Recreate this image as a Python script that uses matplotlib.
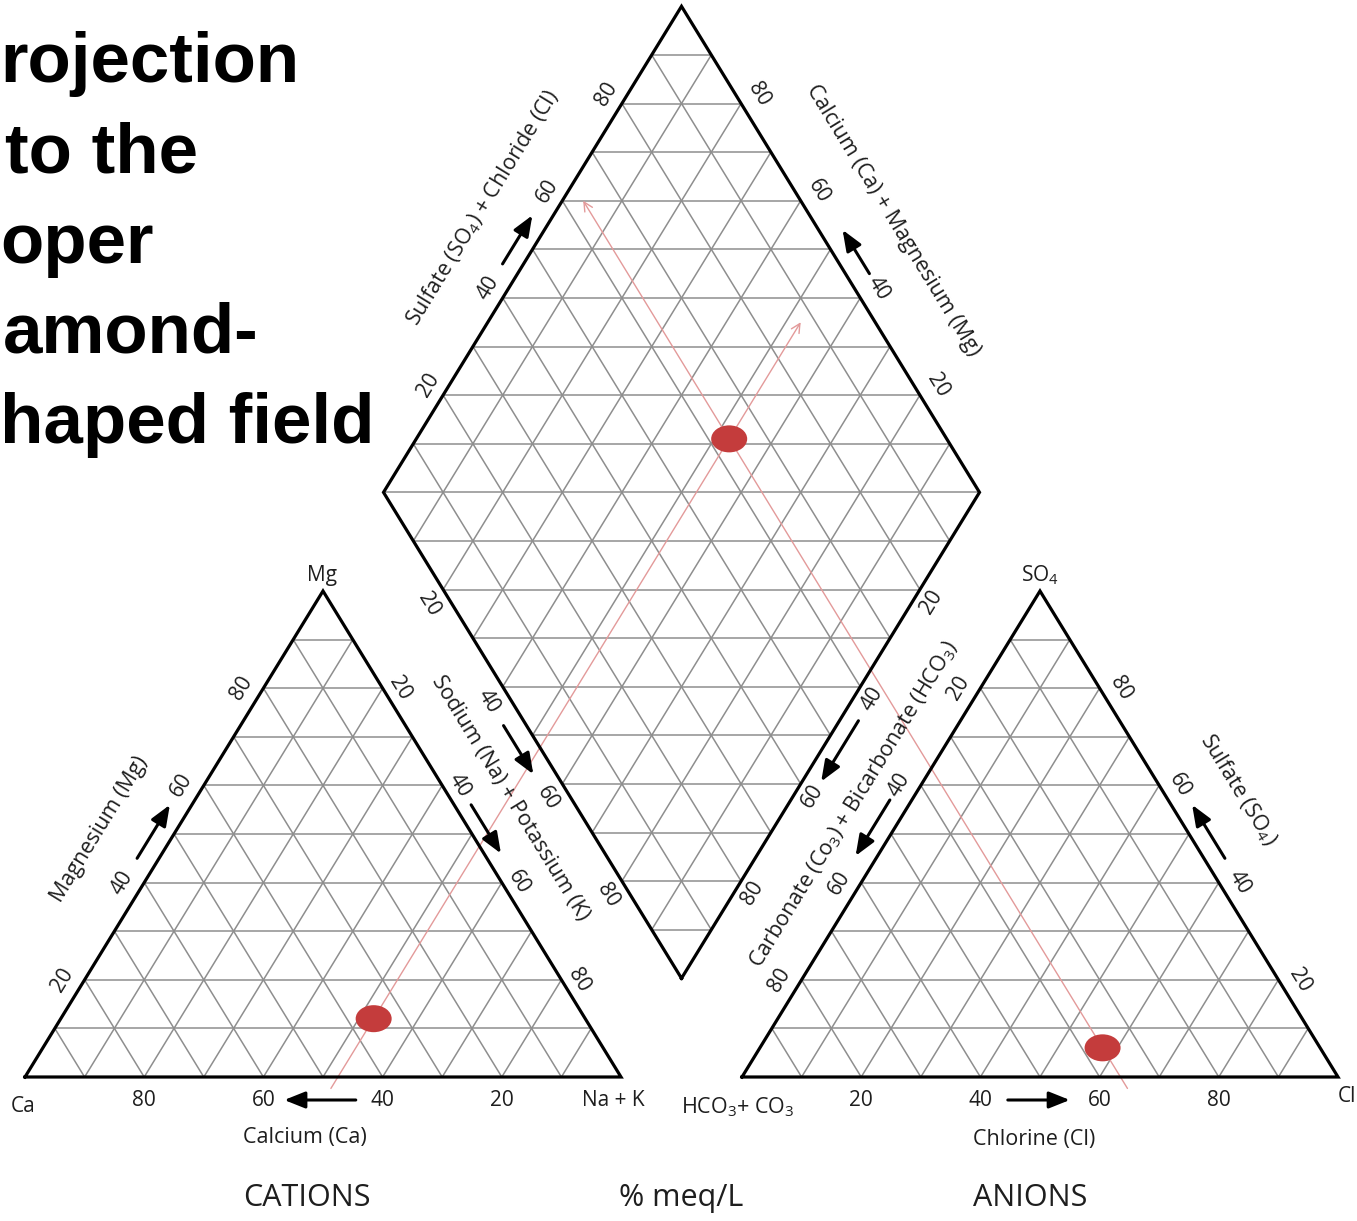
import numpy as np
import matplotlib
matplotlib.use("Agg")
import matplotlib.pyplot as plt
from matplotlib.patches import Ellipse, FancyArrowPatch

# ---------------- data ----------------
cation_names = ["Ca", "Mg", "Na + K"]
cation_percent = [35.5, 12.0, 52.5]      # Ca, Mg, Na+K   (% meq/L)
anion_names = ["HCO3 + CO3", "SO4", "Cl"]
anion_percent = [36.5, 6.0, 57.5]        # HCO3+CO3, SO4, Cl (% meq/L)
tick_values = [20, 40, 60, 80]
grid_values = [10, 20, 30, 40, 50, 60, 70, 80, 90]
heading_lines = ["rojection", "to the", "oper", "amond-", "haped field"]

# ---------------- fonts ----------------
plt.rcParams["font.family"] = ["Open Sans", "DejaVu Sans"]
plt.rcParams["mathtext.fontset"] = "custom"
plt.rcParams["mathtext.rm"] = "Open Sans"
plt.rcParams["mathtext.it"] = "Open Sans"
plt.rcParams["mathtext.bf"] = "Open Sans:bold"

W, HH = 1357, 1221
fig = plt.figure(figsize=(W / 100, HH / 100), dpi=100)
ax = fig.add_axes([0, 0, 1, 1])
ax.set_xlim(0, W)
ax.set_ylim(HH, 0)
ax.axis("off")

# ---------------- geometry (layout) ----------------
X0, BASE, S, H, G = 25.0, 1077.0, 596.0, 486.0, 121.0
K = H / S
ANG = np.degrees(np.arctan2(H, S / 2))
GRID_C = "#8e8e8e"
TXT = "#1e1e1e"
RED = "#c43c3c"
RED_LINE = "#e39a9a"


def cat_xy(ca, mg, nak):
    tot = ca + mg + nak
    return X0 + S * (nak + mg / 2) / tot, BASE - H * mg / tot


def an_xy(hco3, so4, cl):
    tot = hco3 + so4 + cl
    return X0 + S + G + S * (cl + so4 / 2) / tot, BASE - H * so4 / tot


def u_line(nak, t):
    return X0 + S * nak / 100 + t / 2, BASE - K * t


def v_line(hco3, t):
    return X0 + S + G + S * (1 - hco3 / 100) - t / 2, BASE - K * t


def dia_t(nak, hco3):
    return S * (2 - nak / 100 - hco3 / 100) + G


def seg(p, q, **kw):
    ax.plot([p[0], q[0]], [p[1], q[1]], **kw)


gkw = dict(color=GRID_C, lw=1.1, zorder=1, solid_capstyle="butt")
okw = dict(color="black", lw=2.3, zorder=3, solid_joinstyle="miter")

# cation grid
for v in grid_values:
    seg(cat_xy(100 - v, v, 0), cat_xy(0, v, 100 - v), **gkw)
    seg(cat_xy(100 - v, 0, v), cat_xy(0, 100 - v, v), **gkw)
    seg(cat_xy(v, 0, 100 - v), cat_xy(v, 100 - v, 0), **gkw)
# anion grid
for v in grid_values:
    seg(an_xy(100 - v, v, 0), an_xy(0, v, 100 - v), **gkw)
    seg(an_xy(100 - v, 0, v), an_xy(0, 100 - v, v), **gkw)
    seg(an_xy(v, 0, 100 - v), an_xy(v, 100 - v, 0), **gkw)
# diamond grid
for v in grid_values:
    seg(u_line(v, dia_t(v, 100)), u_line(v, dia_t(v, 0)), **gkw)
    seg(v_line(v, dia_t(100, v)), v_line(v, dia_t(0, v)), **gkw)
B = u_line(100, G)
L = u_line(0, S + G)
R = v_line(0, S + G)
T = u_line(0, 2 * S + G)
for j in range(1, 2 * len(grid_values) + 2):
    y = B[1] - j * H / 10
    hw = min(j, 20 - j) * S / 20
    seg((B[0] - hw, y), (B[0] + hw, y), **gkw)

# outlines
CA, MG, NK = cat_xy(100, 0, 0), cat_xy(0, 100, 0), cat_xy(0, 0, 100)
HC, SO, CL = an_xy(100, 0, 0), an_xy(0, 100, 0), an_xy(0, 0, 100)
for poly in ([CA, NK, MG, CA], [HC, CL, SO, HC], [B, R, T, L, B]):
    xs, ys = zip(*poly)
    ax.plot(xs, ys, **okw)

# ---------------- projection lines and points ----------------
ca, mg, nak = cation_percent
hco3, so4, cl = anion_percent
tp = dia_t(nak, hco3)
ax.annotate("", xy=u_line(nak, tp + 0.24 * S), xytext=u_line(nak, -14),
            arrowprops=dict(arrowstyle="->", color=RED_LINE, lw=1.0,
                            shrinkA=0, shrinkB=0, mutation_scale=16), zorder=2)
ax.annotate("", xy=v_line(hco3, tp + 0.49 * S), xytext=v_line(hco3, -14),
            arrowprops=dict(arrowstyle="->", color=RED_LINE, lw=1.0,
                            shrinkA=0, shrinkB=0, mutation_scale=16), zorder=2)
for p in (cat_xy(ca, mg, nak), an_xy(hco3, so4, cl), u_line(nak, tp)):
    ax.add_patch(Ellipse(p, 36, 27, color=RED, zorder=5, lw=0))


# ---------------- edge labels ----------------
def lerp(p, q, f):
    return p[0] + f * (q[0] - p[0]), p[1] + f * (q[1] - p[1])


def edge(P0, P1, dx, dy, rot, shift=0.0, arrow=(0.45, 0.56),
         title=None, tf=0.5, tdx=0.0, tdy=0.0, tsize=15.5):
    for v in tick_values:
        x, y = lerp(P0, P1, v / 100 + shift)
        ax.text(x + dx, y + dy, str(v), fontsize=15, color=TXT, rotation=rot,
                ha="center", va="center", rotation_mode="anchor")
    a0 = lerp(P0, P1, arrow[0] + shift)
    a1 = lerp(P0, P1, arrow[1] + shift)
    ax.add_patch(FancyArrowPatch((a0[0] + dx, a0[1] + dy), (a1[0] + dx, a1[1] + dy),
                                 arrowstyle="-|>,head_length=0.7,head_width=0.28",
                                 mutation_scale=18, lw=2.2, color="black",
                                 shrinkA=0, shrinkB=0, zorder=4))
    if title:
        x, y = lerp(P0, P1, tf)
        ax.text(x + tdx, y + tdy, title, fontsize=tsize, color=TXT, rotation=rot,
                ha="center", va="center", rotation_mode="anchor")


# cation triangle
edge(NK, CA, 0, 23, 0, arrow=(0.445, 0.565), title="Calcium (Ca)", tf=0.53, tdy=60)
edge(CA, MG, -22, 0, ANG, title="Magnesium (Mg)", tf=0.51, tdx=-77)
edge(MG, NK, 17, 0, -ANG, arrow=(0.44, 0.54),
     title="Sodium (Na) + Potassium (K)", tf=0.426, tdx=60)
# anion triangle
edge(HC, CL, 0, 23, 0, arrow=(0.446, 0.55), title="Chlorine (Cl)", tf=0.49, tdy=62)
edge(SO, HC, -22, 0, ANG, arrow=(0.43, 0.545),
     title="Carbonate (Co$_3$) + Bicarbonate (HCO$_3$)", tf=0.438, tdx=-55)
edge(CL, SO, 21, 0, -ANG, title="Sulfate (SO$_4$)", tf=0.59, tdx=76)
# diamond
edge(L, B, -23, 0, -ANG, shift=0.03, arrow=(0.45, 0.55))
edge(R, B, 19, 0, ANG, shift=0.025, arrow=(0.445, 0.57))
edge(L, T, -21, 0, ANG, shift=0.02, arrow=(0.45, 0.55),
     title="Sulfate (SO$_4$) + Chloride (Cl)", tf=0.585, tdx=-75)
edge(R, T, 24, 0, -ANG, shift=0.02, arrow=(0.43, 0.52),
     title="Calcium (Ca) + Magnesium (Mg)", tf=0.56, tdx=80)

# corner labels
ax.text(CA[0] - 2, CA[1] + 29, cation_names[0], fontsize=15, color=TXT, ha="center", va="center")
ax.text(MG[0] - 1, MG[1] - 15, cation_names[1], fontsize=15, color=TXT, ha="center", va="center")
ax.text(NK[0] - 8, NK[1] + 23, cation_names[2], fontsize=15, color=TXT, ha="center", va="center")
ax.text(HC[0] - 4, HC[1] + 30, "HCO$_3$+ CO$_3$", fontsize=15.5, color=TXT, ha="center", va="center")
ax.text(W - 1, CL[1] + 20, "Cl", fontsize=15, color=TXT, ha="right", va="center")
ax.text(SO[0], SO[1] - 16, "SO$_4$", fontsize=15, color=TXT, ha="center", va="center")

# bottom captions
ax.text(MG[0] - 16, 1198, "CATIONS", fontsize=22, color=TXT, ha="center", va="center")
ax.text(B[0], 1198, "% meq/L", fontsize=22, color=TXT, ha="center", va="center")
ax.text(SO[0] - 10, 1198, "ANIONS", fontsize=22, color=TXT, ha="center", va="center")

# heading (slide text, as visible)
head_x = [0, 5, 0, 3, 0]
for i, (line, hx) in enumerate(zip(heading_lines, head_x)):
    ax.text(hx, 82 + i * 90.3, line, fontsize=51, fontweight="bold",
            family=["Liberation Sans", "DejaVu Sans"], color="black",
            ha="left", va="baseline")

fig.savefig("out.png", dpi=100, facecolor="white")
